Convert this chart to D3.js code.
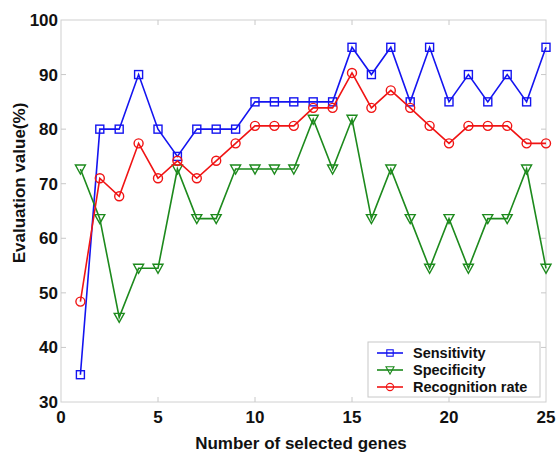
<!DOCTYPE html>
<html>
<head>
<meta charset="utf-8">
<script src="https://cdn.jsdelivr.net/npm/d3@7"></script>
<style>
  body { margin: 0; background: #fff; }
  text { font-family: "Liberation Sans", Arial, sans-serif; font-weight: bold; fill: #111; }
</style>
</head>
<body>
<div class="canvas"></div>
<script>
// number of selected genes
const genes = d3.range(1, 26);
const sensitivity = [35, 80, 80, 90, 80, 75, 80, 80, 80, 85, 85, 85, 85, 85, 95, 90, 95, 85, 95, 85, 90, 85, 90, 85, 95];
const specificity = [72.7, 63.6, 45.5, 54.5, 54.5, 72.7, 63.6, 63.6, 72.7, 72.7, 72.7, 72.7, 81.8, 72.7, 81.8, 63.6, 72.7, 63.6, 54.5, 63.6, 54.5, 63.6, 63.6, 72.7, 54.5];
const recognition = [48.4, 71, 67.7, 77.4, 71, 74.2, 71, 74.2, 77.4, 80.6, 80.6, 80.6, 83.9, 83.9, 90.3, 83.9, 87.1, 83.9, 80.6, 77.4, 80.6, 80.6, 80.6, 77.4, 77.4];
const xTicks = [0, 5, 10, 15, 20, 25];
const yTicks = [30, 40, 50, 60, 70, 80, 90, 100];

const series = [
    { name: 'Sensitivity', values: sensitivity, colour: '#1414f0', marker: 'square' },
    { name: 'Specificity', values: specificity, colour: '#1d8a1d', marker: 'triangle' },
    { name: 'Recognition rate', values: recognition, colour: '#f01414', marker: 'circle' }
];

const svg = d3.select('.canvas')
    .append('svg')
    .attr('width', 557)
    .attr('height', 454);

const x = d3.scaleLinear().domain([0, 25]).range([61, 546]);
const y = d3.scaleLinear().domain([30, 100]).range([402, 20]);

// plot box
svg.append('rect')
    .attr('x', 61).attr('y', 20)
    .attr('width', 485).attr('height', 382)
    .attr('fill', '#fff')
    .attr('stroke', '#d0d0d0')
    .attr('stroke-width', 1);

// inner tick marks on every side
const tickCol = '#c8c8c8';
xTicks.slice(1, -1).forEach(t => {
    svg.append('line').attr('x1', x(t)).attr('x2', x(t)).attr('y1', 402).attr('y2', 397).attr('stroke', tickCol);
    svg.append('line').attr('x1', x(t)).attr('x2', x(t)).attr('y1', 20).attr('y2', 25).attr('stroke', tickCol);
});
yTicks.slice(1, -1).forEach(t => {
    svg.append('line').attr('x1', 61).attr('x2', 66).attr('y1', y(t)).attr('y2', y(t)).attr('stroke', tickCol);
    svg.append('line').attr('x1', 546).attr('x2', 541).attr('y1', y(t)).attr('y2', y(t)).attr('stroke', tickCol);
});

// tick labels
svg.selectAll('.xl').data(xTicks).enter().append('text')
    .attr('x', d => x(d)).attr('y', 423)
    .attr('text-anchor', 'middle')
    .style('font-size', '17px')
    .text(d => d);

svg.selectAll('.yl').data(yTicks).enter().append('text')
    .attr('x', 58).attr('y', d => y(d) + 6)
    .attr('text-anchor', 'end')
    .style('font-size', '17px')
    .text(d => d);

// axis titles
svg.append('text')
    .attr('x', 301).attr('y', 449)
    .attr('text-anchor', 'middle')
    .style('font-size', '17px')
    .text('Number of selected genes');

svg.append('text')
    .attr('transform', 'translate(25, 183) rotate(-90)')
    .attr('text-anchor', 'middle')
    .style('font-size', '17px')
    .text('Evaluation value(%)');

const line = d3.line()
    .x((d, i) => x(genes[i]))
    .y(d => y(d));

const drawMarker = (g, type, colour) => {
    if (type === 'square') {
        g.append('rect').attr('x', -4).attr('y', -4).attr('width', 8).attr('height', 8);
    } else if (type === 'circle') {
        g.append('circle').attr('r', 4.5);
    } else {
        g.append('path').attr('d', 'M-5,-4L5,-4L0,5Z');
    }
    g.selectAll('*')
        .attr('fill', 'none')
        .attr('stroke', colour)
        .attr('stroke-width', 1.4);
};

series.forEach(s => {
    svg.append('path')
        .datum(s.values)
        .attr('d', line)
        .attr('fill', 'none')
        .attr('stroke', s.colour)
        .attr('stroke-width', 1.6);

    s.values.forEach((v, i) => {
        const g = svg.append('g').attr('transform', `translate(${x(genes[i])}, ${y(v)})`);
        drawMarker(g, s.marker, s.colour);
    });
});

// legend
const legend = svg.append('g').attr('transform', 'translate(368, 342)');
legend.append('rect')
    .attr('width', 172).attr('height', 55)
    .attr('fill', '#fff')
    .attr('stroke', '#c8c8c8');

series.forEach((s, i) => {
    const ly = 11 + i * 17;
    legend.append('line')
        .attr('x1', 9).attr('x2', 35)
        .attr('y1', ly).attr('y2', ly)
        .attr('stroke', s.colour).attr('stroke-width', 1.6);
    const g = legend.append('g').attr('transform', `translate(22, ${ly}) scale(0.8)`);
    drawMarker(g, s.marker, s.colour);
    legend.append('text')
        .attr('x', 45).attr('y', ly + 5)
        .style('font-size', '14.5px')
        .text(s.name);
});
</script>
</body>
</html>
